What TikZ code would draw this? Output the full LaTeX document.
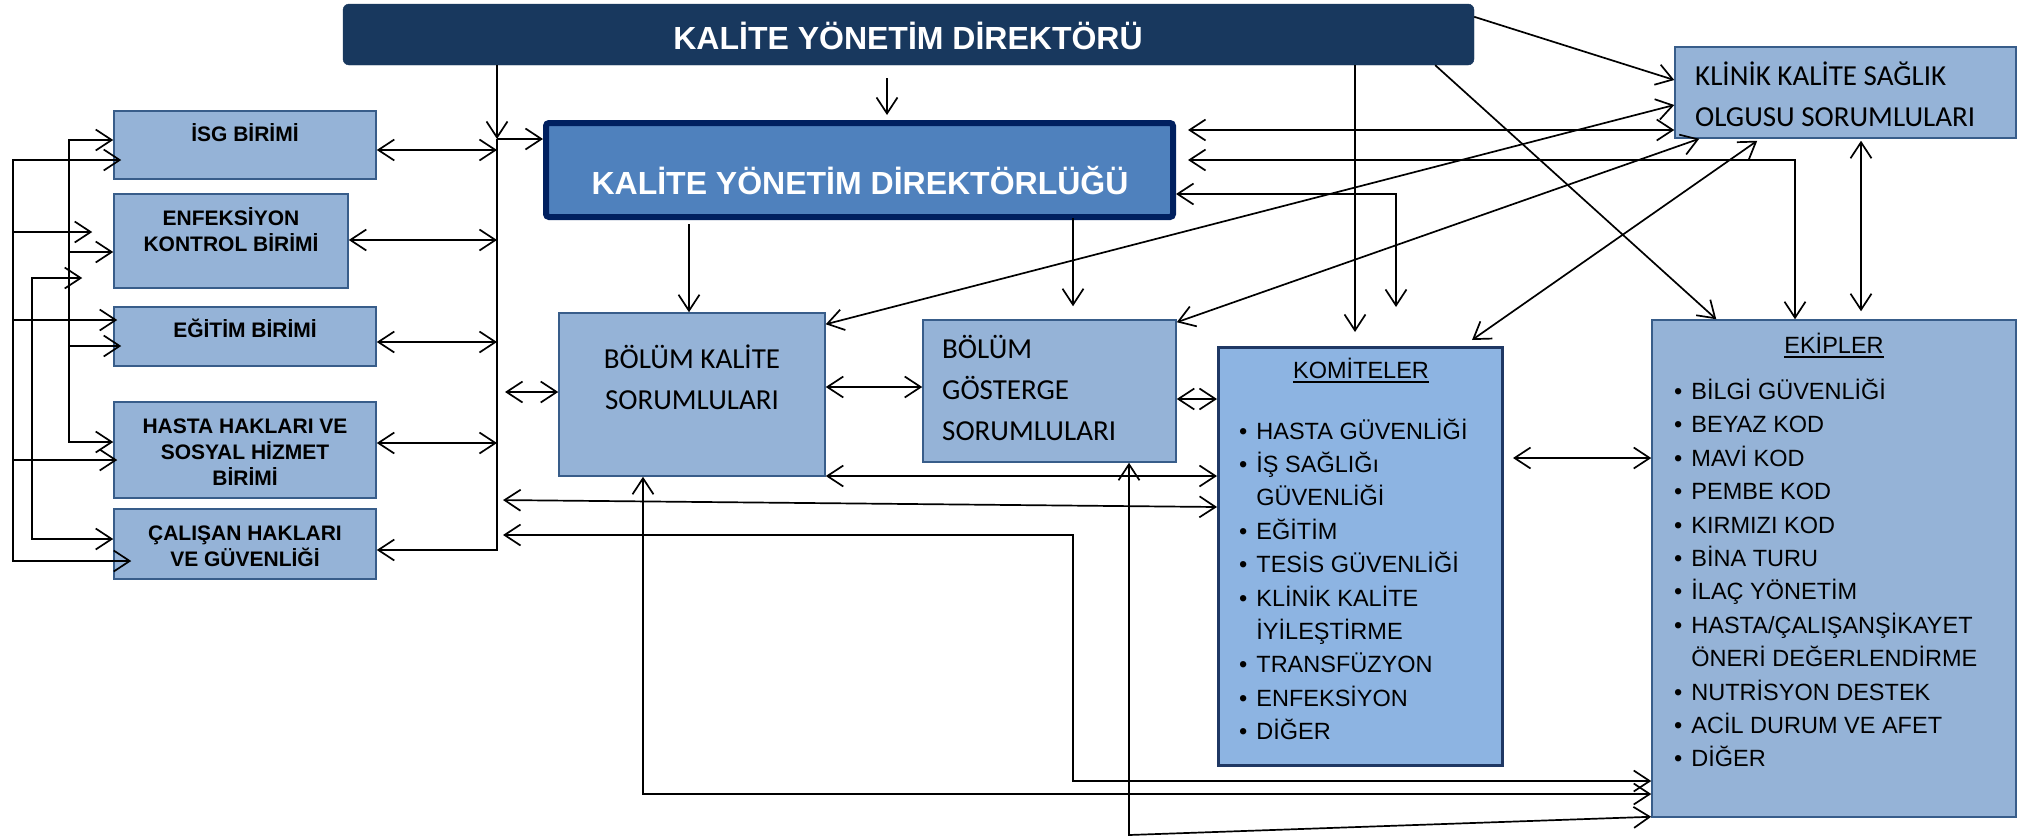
\documentclass[tikz,border=0pt]{standalone}
\usepackage{fontspec}
\setmainfont{Liberation Sans}
\newfontfamily\calibfont{Carlito}
\usetikzlibrary{arrows.meta}

\definecolor{dirblue}{RGB}{24,56,94}
\definecolor{kydfill}{RGB}{79,129,189}
\definecolor{kydline}{RGB}{0,32,96}
\definecolor{unitfill}{RGB}{149,179,215}
\definecolor{unitline}{RGB}{56,93,138}
\definecolor{komfill}{RGB}{141,180,226}
\definecolor{komline}{RGB}{31,56,100}

\newcommand{\cstack}[1]{\vtop{\lineskiplimit=-\maxdimen\halign{\hfil##\hfil\cr#1\crcr}}}
\newcommand{\lstack}[1]{\vtop{\lineskiplimit=-\maxdimen\halign{##\hfil\cr#1\crcr}}}
\newcommand{\blist}[1]{\vtop{\lineskiplimit=-\maxdimen\halign{##\hfil&\hskip9pt##\hfil\cr#1\crcr}}}
\newcommand{\ulinetxt}[1]{\setbox0\hbox{#1}\rlap{\vrule height -2.5pt depth 4.5pt width \wd0}\box0}

\tikzset{
  unit/.style={draw=unitline, fill=unitfill, line width=1.5pt, inner sep=0pt},
  dirbox/.style={fill=dirblue, draw=dirblue, rounded corners=6pt, inner sep=0pt},
  kydbox/.style={fill=kydfill, draw=kydline, line width=6pt, rounded corners=3pt, inner sep=0pt},
  kombox/.style={fill=komfill, draw=komline, line width=3pt, inner sep=0pt},
  bigtxt/.style={anchor=base, inner sep=0pt, text=white, font=\fontsize{32}{38}\selectfont\bfseries},
  unittxt/.style={anchor=base, inner sep=0pt, font=\fontsize{21}{26}\selectfont\bfseries},
  caltxt/.style={inner sep=0pt, font=\calibfont\fontsize{29}{41}\selectfont},
  listtxt/.style={anchor=base west, inner sep=0pt, font=\fontsize{23.5}{33.4}\selectfont},
  link/.style={line width=1.7pt},
  arr/.style={link, -{Straight Barb[length=16pt, width=21pt]}},
  darr/.style={link, {Straight Barb[length=16pt, width=21pt]}-{Straight Barb[length=16pt, width=21pt]}},
}

\begin{document}
\begin{tikzpicture}[x=1pt, y=-1pt]
    \useasboundingbox (0,0) rectangle (2031,838);
    \fill[white] (0,0) rectangle (2031,838);

    \node[dirbox, minimum width=1131pt, minimum height=61pt] (dir) at (908.5,34.5) {};
    \node[kydbox, minimum width=627pt, minimum height=94pt] (kyd) at (859.5,170) {};
    \node[unit, minimum width=262pt, minimum height=68pt] (isg) at (245,145) {};
    \node[unit, minimum width=234pt, minimum height=94pt] (enf) at (231,241) {};
    \node[unit, minimum width=262pt, minimum height=59pt] (egt) at (245,336.5) {};
    \node[unit, minimum width=262pt, minimum height=96pt] (hst) at (245,450) {};
    \node[unit, minimum width=262pt, minimum height=70pt] (cal) at (245,544) {};
    \node[unit, minimum width=266pt, minimum height=163pt] (bks) at (692,394.5) {};
    \node[unit, minimum width=253pt, minimum height=142pt] (bgs) at (1049.5,391) {};
    \node[unit, minimum width=341pt, minimum height=91pt] (kks) at (1845.5,92.5) {};
    \node[unit, minimum width=364pt, minimum height=497pt] (ekip) at (1834,568.5) {};
    \node[kombox, minimum width=284pt, minimum height=418pt] (kom) at (1360.5,556.5) {};

    % bus on the left of the directorate
    \coordinate (bj) at (497,139); \coordinate (bb) at (497,550);
    \draw[arr] (dir.south -| bj) -- (bj);
    \draw[arr] (bj) -- (kyd.west |- bj);
    \draw[arr] (bj) -- (bb) -- (cal.east |- bb);
    \foreach \n/\y in {isg/150,enf/240,egt/342,hst/443}
        \draw[darr] (\n.east |- 0,\y) -- (bj |- 0,\y);
    \draw[darr, shorten <=8pt] (bj |- 0,392) -- (bks.west |- 0,392);
    \draw[darr, shorten <=6pt] (bj |- 0,500) -- (kom.west |- 0,507);

    % feeders at the far left
    \coordinate (va) at (69,140); \coordinate (vb) at (13,160); \coordinate (vc) at (32,278);
    \draw[darr] (isg.west |- va) -- (va) -- (va |- 0,442) -- (hst.west |- 0,442);
    \draw[darr, shorten <=-8pt, shorten >=-18pt] (isg.west |- vb) -- (vb) -- (vb |- 0,561)
        -- (cal.west |- 0,561);
    \draw[darr, shorten <=31pt] (enf.west |- vc) -- (vc) -- (vc |- 0,539) -- (cal.west |- 0,539);
    \draw[arr] (va |- 0,252) -- (enf.west |- 0,252);
    \draw[arr, shorten >=-8pt] (va |- 0,346) -- (egt.west |- 0,346);
    \draw[arr, shorten >=21pt] (vb |- 0,232) -- (enf.west |- 0,232);
    \draw[arr, shorten >=-4pt] (vb |- 0,320) -- (egt.west |- 0,320);
    \draw[arr, shorten >=-4pt] (vb |- 0,460) -- (hst.west |- 0,460);

    % from the top
    \draw[arr, shorten <=13pt, shorten >=5pt] (dir.south -| 887,0) -- (kyd.north -| 887,0);
    \draw[arr, shorten <=4pt] (kyd.south -| 689,0) -- (bks.north -| 689,0);
    \draw[arr, shorten <=-2pt, shorten >=13pt] (kyd.south -| 1073,0) -- (bgs.north -| 1073,0);
    \draw[arr, shorten >=14pt] (dir.south -| 1355,0) -- (kom.north -| 1355,0);
    \draw[arr] ([xshift=-39pt]dir.south east) -- ([xshift=65pt]ekip.north west);
    \draw[arr] ([yshift=-13pt]dir.north east) -- ([yshift=12.5pt]kks.west);

    % right of the directorate
    \coordinate (kq) at (1795,160); \coordinate (cq) at (1396,194);
    \draw[darr, shorten <=12pt] (kyd.east |- 0,130) -- (kks.west |- 0,130);
    \draw[darr, shorten <=12pt] (kyd.east |- kq) -- (kq) -- (ekip.north -| kq);
    \draw[darr, shorten >=39pt] (kyd.east |- cq) -- (cq) -- (kom.north -| cq);
    \draw[darr] ([yshift=-12pt]bks.north east) -- ([yshift=-12.5pt]kks.west);
    \draw[darr] ([yshift=-3pt]bgs.north east) -- ([xshift=25pt]kks.south west);
    \draw[darr] ([xshift=-32pt,yshift=6pt]kom.north east) -- ([xshift=83pt,yshift=-2pt]kks.south west);
    \draw[darr, shorten <=2pt, shorten >=8pt] (kks.south -| 1861,0) -- (ekip.north -| 1861,0);

    % middle row
    \draw[darr] (bks.east |- 0,387) -- (bgs.west |- 0,387);
    \draw[darr] (bgs.east |- 0,399) -- (kom.west |- 0,399);
    \draw[darr] (bks.east |- 0,476) -- (kom.west |- 0,476);
    \draw[darr, shorten <=9pt] (kom.east |- 0,458) -- (ekip.west |- 0,458);

    % round the bottom to the teams
    \coordinate (eq2) at (1073,535); \coordinate (eq) at (1073,781);
    \coordinate (bq) at (643,794); \coordinate (gq) at (1129,835);
    \draw[darr, shorten <=6pt] (bj |- eq2) -- (eq2) -- (eq) -- (ekip.west |- eq);
    \draw[darr] (bks.south -| bq) -- (bq) -- (ekip.west |- bq);
    \draw[darr] (bgs.south -| gq) -- (gq) -- ([yshift=1pt]ekip.south west);

    % texts
    \node[bigtxt] (dirtxt) at (908,49) {KALİTE YÖNETİM DİREKTÖRÜ};
    \node[bigtxt] (kydtxt) at (860,194) {KALİTE YÖNETİM DİREKTÖRLÜĞÜ};
    \node[unittxt] (isgtxt) at (245,141) {\cstack{İSG BİRİMİ}};
    \node[unittxt] (enftxt) at (231,225) {\cstack{ENFEKSİYON\cr KONTROL BİRİMİ}};
    \node[unittxt] (egttxt) at (245,337) {\cstack{EĞİTİM BİRİMİ}};
    \node[unittxt] (hsttxt) at (245,433) {\cstack{HASTA HAKLARI VE\cr SOSYAL HİZMET\cr BİRİMİ}};
    \node[unittxt] (caltxt) at (245,540) {\cstack{ÇALIŞAN HAKLARI\cr VE GÜVENLİĞİ}};
    \node[caltxt, anchor=base] (bkstxt) at (692,368) {\cstack{BÖLÜM KALİTE\cr SORUMLULARI}};
    \node[caltxt, anchor=base west] (bgstxt) at (942,358) {\lstack{BÖLÜM\cr GÖSTERGE\cr SORUMLULARI}};
    \node[caltxt, anchor=base west] (kkstxt) at (1695,85) {\lstack{KLİNİK KALİTE SAĞLIK\cr OLGUSU SORUMLULARI}};
    \node[listtxt, anchor=base] (komtitle) at (1361,378) {\ulinetxt{KOMİTELER}};
    \node[listtxt] (komlist) at (1239,439) {\blist{•&HASTA GÜVENLİĞİ\cr •&İŞ SAĞLIĞı\cr
        &GÜVENLİĞİ\cr •&EĞİTİM\cr •&TESİS GÜVENLİĞİ\cr •&KLİNİK KALİTE\cr &İYİLEŞTİRME\cr
        •&TRANSFÜZYON\cr •&ENFEKSİYON\cr •&DİĞER}};
    \node[listtxt, anchor=base] (ekiptitle) at (1834,353) {\ulinetxt{EKİPLER}};
    \node[listtxt] (ekiplist) at (1674,399.5) {\blist{•&BİLGİ GÜVENLİĞİ\cr •&BEYAZ KOD\cr
        •&MAVİ KOD\cr •&PEMBE KOD\cr •&KIRMIZI KOD\cr •&BİNA TURU\cr •&İLAÇ YÖNETİM\cr
        •&HASTA/ÇALIŞANŞİKAYET\cr &ÖNERİ DEĞERLENDİRME\cr •&NUTRİSYON DESTEK\cr
        •&ACİL DURUM VE AFET\cr •&DİĞER}};
\end{tikzpicture}
\end{document}
